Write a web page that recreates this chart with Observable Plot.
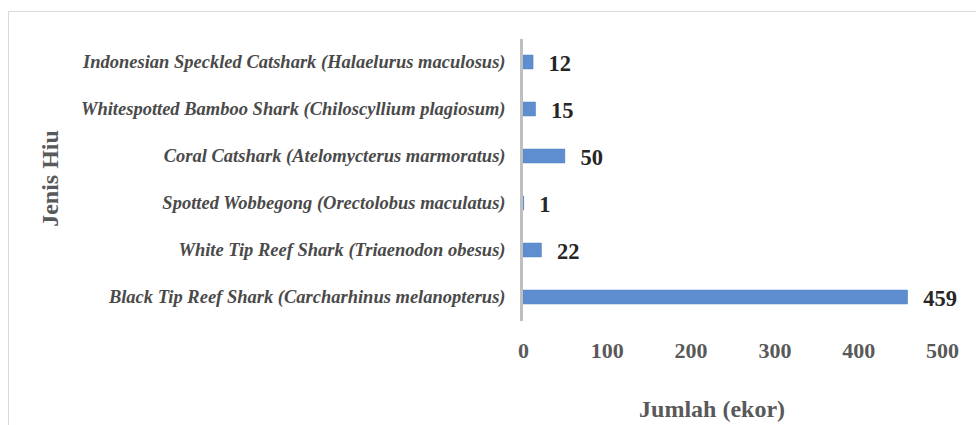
<!DOCTYPE html>
<html>
<head>
<meta charset="utf-8">
<script src="https://cdn.jsdelivr.net/npm/d3@7"></script>
<script src="https://cdn.jsdelivr.net/npm/@observablehq/plot@0.6"></script>
<style>
  html, body { margin: 0; padding: 0; background: #fff; overflow: hidden; }
  #wrap { position: relative; width: 976px; height: 425px; }
  #frame { position: absolute; left: 8px; top: 11px; width: 1000px; height: 500px; border: 1px solid #d9d9d9; box-sizing: border-box; }
  #chart { position: absolute; left: 0; top: 0; }
</style>
</head>
<body>
<div id="wrap"><div id="frame"></div><div id="chart"></div></div>
<script>
const categories = [
  "Indonesian Speckled Catshark (Halaelurus maculosus)",
  "Whitespotted Bamboo Shark (Chiloscyllium plagiosum)",
  "Coral Catshark (Atelomycterus marmoratus)",
  "Spotted Wobbegong (Orectolobus maculatus)",
  "White Tip Reef Shark (Triaenodon obesus)",
  "Black Tip Reef Shark (Carcharhinus melanopterus)"
];
const values = [12, 15, 50, 1, 22, 459];
const xTicks = [0, 100, 200, 300, 400, 500];

const data = categories.map((c, i) => ({ name: c, value: values[i] }));
const serif = "'Liberation Serif', 'Times New Roman', serif";

const chart = Plot.plot({
  width: 976,
  height: 425,
  marginLeft: 523,
  marginRight: 34,
  marginTop: 39,
  marginBottom: 104,
  style: { fontFamily: serif, background: "transparent", overflow: "visible" },
  x: { domain: [0, 500], ticks: xTicks, label: null },
  y: { domain: categories, paddingInner: 0.7, paddingOuter: 0.35, label: null },
  marks: [
    Plot.barX(data, { y: "name", x: "value", fill: "#5e8ecf", stroke: "#5283c4", strokeWidth: 0.5 }),
    Plot.ruleX([0], { stroke: "#bfbfbf", strokeWidth: 3, dx: -2 }),
    Plot.text(data, { y: "name", x: "value", text: d => String(d.value), textAnchor: "start", dx: 15, dy: 1,
      fontSize: 22.5, fontWeight: "bold", fill: "#262626", fontFamily: serif }),
    Plot.axisY({ tickSize: 0, tickPadding: 18, fontSize: 18.5, fontStyle: "italic", fontWeight: "bold",
      fill: "#4a4a4a", fontFamily: serif, label: null }),
    Plot.axisX({ ticks: xTicks, tickSize: 0, tickPadding: 21, fontSize: 22, fontWeight: "bold",
      fill: "#595959", fontFamily: serif, label: null }),
    Plot.text(["Jumlah (ekor)"], { frameAnchor: "bottom", x: 225, dy: 95, text: d => d,
      fontSize: 24, fontWeight: "bold", fill: "#595959", fontFamily: serif, lineAnchor: "bottom" }),
    Plot.text(["Jenis Hiu"], { frameAnchor: "left", dx: -473, dy: -2, rotate: -90, textAnchor: "middle", text: d => d,
      fontSize: 24, fontWeight: "bold", fill: "#595959", fontFamily: serif })
  ]
});
document.getElementById("chart").appendChild(chart);
</script>
</body>
</html>
